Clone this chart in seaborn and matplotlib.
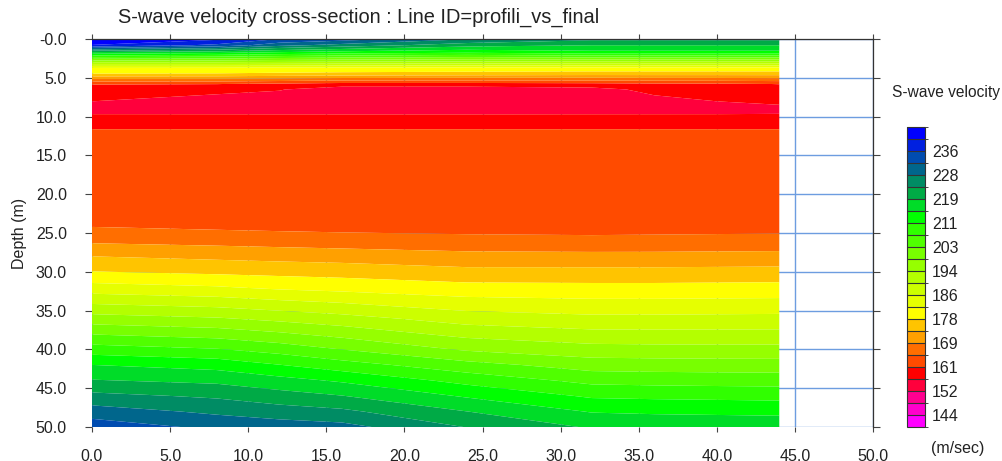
import numpy as np
import matplotlib
matplotlib.use("Agg")
import matplotlib.pyplot as plt
from matplotlib.colors import ListedColormap, BoundaryNorm
import seaborn as sns

# profile positions along the line (m) and depth nodes (m)
x_pos = [0, 8, 12, 16, 24, 32, 36, 40, 44]
depth_nodes = [0, 0.8, 1.7, 3.0, 3.7, 4.5, 5.8, 6.5, 8, 9, 9.8, 11.4, 12,
               24, 26, 28, 30, 32, 36, 40, 42, 44, 46, 48, 50]

# S-wave velocity (m/s) at each depth node, one list per profile position
vs_x0 = [244, 240, 219, 194, 181.8, 177.2, 161, 158.5, 156.6, 155, 156.8, 159.5, 162.8,
         164.5, 168.3, 173.25, 177.6, 183.2, 195.9, 208.7, 215.1, 219.5, 224.6, 229.6, 234.3]
vs_x8 = [241, 235, 217, 194, 181.7, 177, 160.8, 157.5, 155.2, 154.8, 156.8, 159.5, 162.8,
         163.8, 167.6, 172.3, 176.6, 182.0, 194.5, 207.0, 213.5, 218.3, 222.8, 226.8, 230.8]
vs_x12 = [236, 229, 215, 193.5, 181.5, 176.5, 160, 156.8, 154.5, 154.6, 156.8, 159.5, 162.8,
          163.5, 167.2, 171.8, 176.2, 180.8, 193.0, 205.0, 211.0, 216.5, 221.0, 225.4, 229.8]
vs_x16 = [234, 226, 213.5, 193, 181.3, 176, 159, 154, 154, 154.5, 156.8, 159.5, 162.8,
          163.3, 166.8, 171.4, 175.8, 180.1, 191.5, 202.5, 208.5, 214.5, 219.4, 224.3, 229.0]
vs_x24 = [228, 221, 212, 192.5, 181, 175.5, 159, 154, 154, 154.5, 156.8, 159.5, 162.8,
          163.0, 166.3, 170.4, 174.5, 178.8, 188.0, 197.8, 204.0, 209.5, 214.6, 219.3, 223.3]
vs_x32 = [224.5, 219.3, 214, 192, 181, 175, 159.5, 155, 154.5, 154.8, 156.8, 159.5, 162.8,
          163.0, 166.0, 170.3, 174.5, 178.6, 186.8, 195.8, 200.6, 205.5, 210.3, 214.8, 218.8]
vs_x36 = [224.5, 219.3, 214, 192, 181, 175, 160, 157.8, 155.3, 154.9, 156.8, 159.5, 162.8,
          163.1, 166.1, 170.3, 174.5, 178.6, 186.8, 195.6, 200.4, 205.2, 210.0, 214.4, 218.4]
vs_x40 = [224.5, 219.3, 214, 192, 181, 175, 160.2, 158.2, 156.6, 155, 156.8, 159.5, 162.8,
          163.2, 166.2, 170.4, 174.6, 178.7, 186.9, 195.5, 200.3, 205.0, 209.8, 214.2, 218.2]
vs_x44 = [224.5, 219.3, 214, 192, 181, 175, 160.8, 159, 157.5, 155.5, 156.8, 159.5, 162.8,
          163.3, 166.3, 170.5, 174.7, 178.8, 187.0, 195.5, 200.2, 204.9, 209.6, 214.0, 218.0]

# colour scale: 25 classes, bottom (slow) to top (fast)
class_colors = ['#ff00ff', '#ff00cc', '#ff0090', '#ff003c', '#ff0000', '#ff4b00',
                '#ff6e00', '#ffa000', '#ffc400', '#ffff00', '#e6ff00', '#ccff00',
                '#b4ff00', '#96ff00', '#78ff00', '#50ff00', '#30ff00', '#00ff00',
                '#00dc28', '#00aa46', '#008c64', '#00668c', '#004cb0', '#0020e0', '#0000ff']
cbar_labels = ['144', '152', '161', '169', '178', '186', '194', '203', '211', '219', '228', '236']
x_ticks = [0, 5, 10, 15, 20, 25, 30, 35, 40, 45, 50]
x_ticklabels = ['0.0', '5.0', '10.0', '15.0', '20.0', '25.0', '30.0', '35.0', '40.0', '45.0', '50.0']
y_ticks = [0, 5, 10, 15, 20, 25, 30, 35, 40, 45, 50]
y_ticklabels = ['-0.0', '5.0', '10.0', '15.0', '20.0', '25.0', '30.0', '35.0', '40.0', '45.0', '50.0']

sns.set_style("white")
plt.rcParams['font.family'] = ['Liberation Sans', 'DejaVu Sans']

step = (236 - 144) / 22
levels = np.linspace(144 - step, 236 + 2 * step, 26)
cmap = ListedColormap(sns.color_palette(class_colors))
norm = BoundaryNorm(levels, cmap.N)

X, Z = np.meshgrid(x_pos, depth_nodes)
V = np.column_stack([vs_x0, vs_x8, vs_x12, vs_x16, vs_x24, vs_x32, vs_x36, vs_x40, vs_x44])

fig = plt.figure(figsize=(10.03, 4.61), dpi=100)
ax = fig.add_axes([92 / 1003, 1 - 427 / 461, 781 / 1003, 388 / 461])
cax = fig.add_axes([907 / 1003, 1 - 427 / 461, 18 / 1003, 300 / 461])

ax.set_axisbelow(True)
ax.grid(True, color='#6d9de0', lw=1.0)
cf = ax.contourf(X, Z, V, levels=levels, cmap=cmap, norm=norm, antialiased=True)

ax.set_xlim(0, 50)
ax.set_ylim(50, 0)
ax.set_xticks(x_ticks)
ax.set_xticklabels(x_ticklabels)
ax.set_yticks(y_ticks)
ax.set_yticklabels(y_ticklabels)
ax.tick_params(axis='x', direction='out', length=3.6, width=0.8, color='#444444',
               pad=12.5, labelsize=11.5, labelcolor='#222222', top=True, bottom=True)
ax.tick_params(axis='y', direction='out', length=5, width=0.8, color='#444444',
               pad=13, labelsize=11.5, labelcolor='#222222', left=True, right=True)
for side in ['left', 'bottom']:
    ax.spines[side].set_visible(False)
for side in ['top', 'right']:
    ax.spines[side].set_color('#333333')
    ax.spines[side].set_linewidth(0.9)
ax.set_ylabel('Depth (m)', fontsize=11.5, color='#222222')
ax.yaxis.set_label_coords(-0.083, 0.5)

fig.text(118 / 1003, 1 - 17 / 461, 'S-wave velocity cross-section : Line ID=profili_vs_final',
         fontsize=14.4, color='#222222', ha='left', va='center')

cb = fig.colorbar(cf, cax=cax, drawedges=True)
cb.outline.set_edgecolor('#333333')
cb.outline.set_linewidth(0.8)
cb.dividers.set_color('#333333')
cb.dividers.set_linewidth(0.8)
cb.set_ticks(levels[1:24:2])
cb.set_ticklabels(cbar_labels)
cb.ax.tick_params(length=0, pad=5, labelsize=11.5, labelcolor='#222222')
fig.text(946 / 1003, 1 - 92 / 461, 'S-wave velocity', fontsize=11.2, color='#222222',
         ha='center', va='center')
fig.text(958 / 1003, 1 - 448 / 461, '(m/sec)', fontsize=11.5, color='#222222',
         ha='center', va='center')

fig.savefig('out.png', dpi=100)
